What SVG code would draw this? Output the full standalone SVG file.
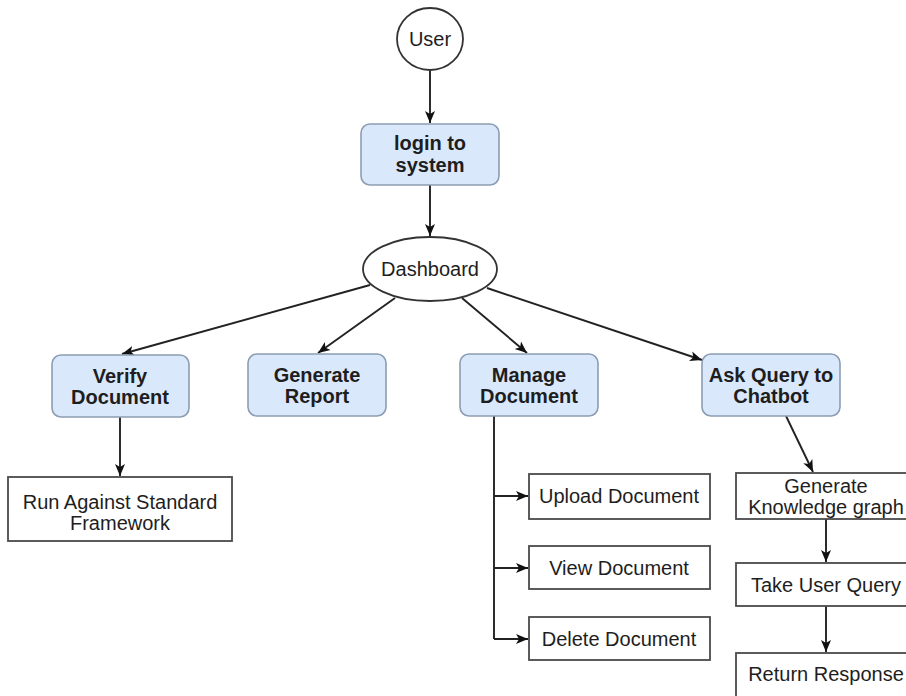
<svg xmlns="http://www.w3.org/2000/svg" width="906" height="696" viewBox="0 0 906 696">
  <style>
    .bg { fill: #ffffff; }
    .task { fill: #dae8fc; stroke: #8c9db3; stroke-width: 1.6; }
    .step { fill: #ffffff; stroke: #4a4a4a; stroke-width: 1.8; }
    .oval { fill: #ffffff; stroke: #333333; stroke-width: 1.8; }
    .lbl { font-family: "Liberation Sans", Arial, sans-serif; font-size: 20px; fill: #1e1e1e; text-anchor: middle; }
    .bold { font-weight: bold; }
    .edge { fill: none; stroke: #222222; stroke-width: 1.9; }
  </style>
  <defs>
    <marker id="arrow" markerUnits="userSpaceOnUse" markerWidth="13" markerHeight="13" viewBox="0 0 13 13" refX="12" refY="6.5" orient="auto">
      <path d="M0,1.5 L12,6.5 L0,11.5 L3,6.5 Z" fill="#111111"/>
    </marker>
  </defs>

  <rect class="bg" x="0" y="0" width="906" height="696"/>

  <!-- connectors -->
  <g id="connectors">
    <line class="edge" x1="430" y1="70" x2="430" y2="123" marker-end="url(#arrow)"/>
    <line class="edge" x1="430" y1="185" x2="430" y2="236" marker-end="url(#arrow)"/>
    <line class="edge" x1="370" y1="285" x2="122" y2="354" marker-end="url(#arrow)"/>
    <line class="edge" x1="395" y1="298" x2="318" y2="353" marker-end="url(#arrow)"/>
    <line class="edge" x1="462" y1="298" x2="527" y2="353" marker-end="url(#arrow)"/>
    <line class="edge" x1="487" y1="288" x2="702" y2="360" marker-end="url(#arrow)"/>
    <line class="edge" x1="120" y1="417" x2="120" y2="476" marker-end="url(#arrow)"/>
    <polyline class="edge" points="494,416 494,639"/>
    <line class="edge" x1="494" y1="496" x2="528" y2="496" marker-end="url(#arrow)"/>
    <line class="edge" x1="494" y1="568" x2="528" y2="568" marker-end="url(#arrow)"/>
    <line class="edge" x1="494" y1="639" x2="528" y2="639" marker-end="url(#arrow)"/>
    <line class="edge" x1="786" y1="416" x2="813" y2="472" marker-end="url(#arrow)"/>
    <line class="edge" x1="826" y1="519" x2="826" y2="562" marker-end="url(#arrow)"/>
    <line class="edge" x1="826" y1="606" x2="826" y2="652" marker-end="url(#arrow)"/>
  </g>

  <g id="user">
    <ellipse class="oval" cx="430" cy="39" rx="33" ry="31"/>
    <text class="lbl" x="430" y="46">User</text>
  </g>

  <g id="login">
    <rect class="task" x="361" y="124" width="138" height="61" rx="9"/>
    <text class="lbl bold" x="430" y="150">login to</text>
    <text class="lbl bold" x="430" y="172">system</text>
  </g>

  <g id="dashboard">
    <ellipse class="oval" cx="430" cy="269" rx="67" ry="32"/>
    <text class="lbl" x="430" y="276">Dashboard</text>
  </g>

  <g id="verify">
    <rect class="task" x="52" y="355" width="137" height="62" rx="9"/>
    <text class="lbl bold" x="120" y="383">Verify</text>
    <text class="lbl bold" x="120" y="404">Document</text>
  </g>

  <g id="report">
    <rect class="task" x="248" y="354" width="138" height="62" rx="9"/>
    <text class="lbl bold" x="317" y="382">Generate</text>
    <text class="lbl bold" x="317" y="403">Report</text>
  </g>

  <g id="manage">
    <rect class="task" x="460" y="354" width="138" height="62" rx="9"/>
    <text class="lbl bold" x="529" y="382">Manage</text>
    <text class="lbl bold" x="529" y="403">Document</text>
  </g>

  <g id="chatbot">
    <rect class="task" x="702" y="354" width="138" height="62" rx="9"/>
    <text class="lbl bold" x="771" y="382">Ask Query to</text>
    <text class="lbl bold" x="771" y="403">Chatbot</text>
  </g>

  <g id="run-framework">
    <rect class="step" x="8" y="477" width="224" height="64"/>
    <text class="lbl" x="120" y="509">Run Against Standard</text>
    <text class="lbl" x="120" y="530">Framework</text>
  </g>

  <g id="upload">
    <rect class="step" x="529" y="474" width="181" height="45"/>
    <text class="lbl" x="619" y="503">Upload Document</text>
  </g>

  <g id="view">
    <rect class="step" x="529" y="546" width="181" height="43"/>
    <text class="lbl" x="619" y="575">View Document</text>
  </g>

  <g id="delete">
    <rect class="step" x="529" y="617" width="181" height="43"/>
    <text class="lbl" x="619" y="646">Delete Document</text>
  </g>

  <g id="knowledge-graph">
    <rect class="step" x="736" y="473" width="180" height="46"/>
    <text class="lbl" x="826" y="493">Generate</text>
    <text class="lbl" x="826" y="514">Knowledge graph</text>
  </g>

  <g id="take-query">
    <rect class="step" x="736" y="563" width="180" height="43"/>
    <text class="lbl" x="826" y="592">Take User Query</text>
  </g>

  <g id="return-response">
    <rect class="step" x="736" y="653" width="180" height="60"/>
    <text class="lbl" x="826" y="681">Return Response</text>
  </g>
</svg>
